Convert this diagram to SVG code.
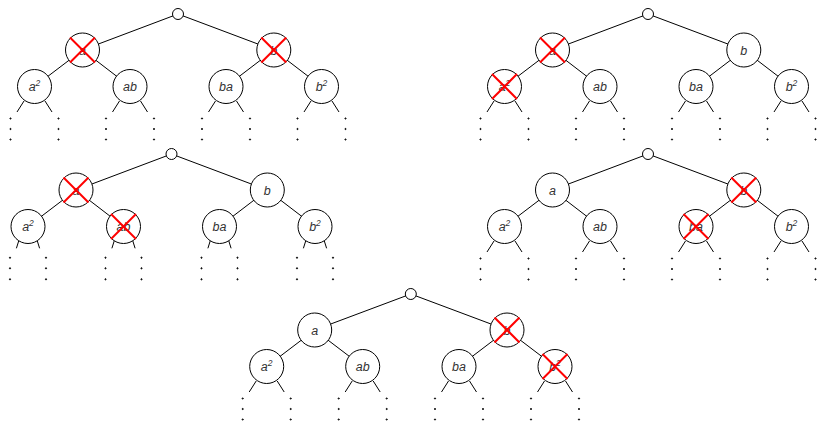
<svg xmlns="http://www.w3.org/2000/svg" xmlns:xlink="http://www.w3.org/1999/xlink" width="818" height="422" viewBox="0 0 818 422">
<style>
.e{stroke:#000;stroke-width:1;fill:none}
.n{fill:#fff;stroke:#000;stroke-width:1}
.t{font-family:"Liberation Sans",Arial,sans-serif;font-style:italic;font-size:12.5px;fill:#333;text-anchor:middle}
.s{font-size:8.5px}
.x{stroke:#f00;stroke-width:2;fill:none}
.d{fill:#444}
</style>
<defs>
<g id="cross" class="x"><line x1="-12.5" y1="-12.5" x2="12.5" y2="12.5"/><line x1="12.5" y1="-12.5" x2="-12.5" y2="12.5"/></g>
<g id="stubW"><g class="e"><line x1="-10.5" y1="14.5" x2="-17.5" y2="25.5"/><line x1="10.5" y1="14.5" x2="17.5" y2="25.5"/></g><g class="d"><circle cx="-24" cy="32" r="0.6"/><circle cx="-24" cy="42.5" r="0.6"/><circle cx="-24" cy="53" r="0.6"/><circle cx="24" cy="32" r="0.6"/><circle cx="24" cy="42.5" r="0.6"/><circle cx="24" cy="53" r="0.6"/></g></g>
<g id="stubN"><g class="e"><line x1="-9" y1="13.5" x2="-11.6" y2="21.8"/><line x1="9" y1="13.5" x2="11.6" y2="21.8"/></g><g class="d"><circle cx="-18" cy="31.2" r="0.6"/><circle cx="-18" cy="41.8" r="0.6"/><circle cx="-18" cy="52.8" r="0.6"/><circle cx="18" cy="31.2" r="0.6"/><circle cx="18" cy="41.8" r="0.6"/><circle cx="18" cy="52.8" r="0.6"/></g></g>
</defs>
<g id="connectors" class="e">
<!-- tree 1 -->
<line x1="178" y1="14" x2="82.5" y2="50"/><line x1="178" y1="14" x2="273.8" y2="50"/>
<line x1="82.5" y1="50" x2="34.5" y2="86.5"/><line x1="82.5" y1="50" x2="130" y2="86.5"/>
<line x1="273.8" y1="50" x2="226" y2="86.5"/><line x1="273.8" y1="50" x2="321.5" y2="86.5"/>
<use xlink:href="#stubW" x="34.5" y="86.5"/><use xlink:href="#stubW" x="130" y="86.5"/><use xlink:href="#stubW" x="226" y="86.5"/><use xlink:href="#stubW" x="321.5" y="86.5"/>
<!-- tree 2 -->
<line x1="648" y1="14" x2="552.5" y2="50"/><line x1="648" y1="14" x2="743.8" y2="50"/>
<line x1="552.5" y1="50" x2="504.5" y2="86.5"/><line x1="552.5" y1="50" x2="600" y2="86.5"/>
<line x1="743.8" y1="50" x2="696" y2="86.5"/><line x1="743.8" y1="50" x2="791.5" y2="86.5"/>
<use xlink:href="#stubW" x="504.5" y="86.5"/><use xlink:href="#stubW" x="600" y="86.5"/><use xlink:href="#stubW" x="696" y="86.5"/><use xlink:href="#stubW" x="791.5" y="86.5"/>
<!-- tree 3 -->
<line x1="171.5" y1="154" x2="76" y2="190"/><line x1="171.5" y1="154" x2="267.3" y2="190"/>
<line x1="76" y1="190" x2="28" y2="226.5"/><line x1="76" y1="190" x2="123.5" y2="226.5"/>
<line x1="267.3" y1="190" x2="219.5" y2="226.5"/><line x1="267.3" y1="190" x2="315" y2="226.5"/>
<use xlink:href="#stubN" x="28" y="226.5"/><use xlink:href="#stubN" x="123.5" y="226.5"/><use xlink:href="#stubN" x="219.5" y="226.5"/><use xlink:href="#stubN" x="315" y="226.5"/>
<!-- tree 4 -->
<line x1="648" y1="154" x2="552.5" y2="190"/><line x1="648" y1="154" x2="743.8" y2="190"/>
<line x1="552.5" y1="190" x2="504.5" y2="226.5"/><line x1="552.5" y1="190" x2="600" y2="226.5"/>
<line x1="743.8" y1="190" x2="696" y2="226.5"/><line x1="743.8" y1="190" x2="791.5" y2="226.5"/>
<use xlink:href="#stubW" x="504.5" y="226.5"/><use xlink:href="#stubW" x="600" y="226.5"/><use xlink:href="#stubW" x="696" y="226.5"/><use xlink:href="#stubW" x="791.5" y="226.5"/>
<!-- tree 5 -->
<line x1="410.8" y1="294" x2="314.7" y2="330"/><line x1="410.8" y1="294" x2="507" y2="330"/>
<line x1="314.7" y1="330" x2="266.7" y2="366.5"/><line x1="314.7" y1="330" x2="362.7" y2="366.5"/>
<line x1="507" y1="330" x2="459" y2="366.5"/><line x1="507" y1="330" x2="555" y2="366.5"/>
<use xlink:href="#stubW" x="266.7" y="366.5"/><use xlink:href="#stubW" x="362.7" y="366.5"/><use xlink:href="#stubW" x="459" y="366.5"/><use xlink:href="#stubW" x="555" y="366.5"/>
</g>
<!-- tree 1 nodes -->
<g id="t1-root"><circle class="n" cx="178" cy="14" r="5.5"/></g>
<g id="t1-a"><circle class="n" cx="82.5" cy="50" r="17"/><text class="t" x="82.5" y="54.5">a</text><use xlink:href="#cross" x="82.5" y="50"/></g>
<g id="t1-b"><circle class="n" cx="273.8" cy="50" r="17"/><text class="t" x="273.8" y="54.5">b</text><use xlink:href="#cross" x="273.8" y="50"/></g>
<g id="t1-aa"><circle class="n" cx="34.5" cy="86.5" r="17"/><text class="t" x="34.5" y="91">a<tspan class="s" dy="-4.8">2</tspan></text></g>
<g id="t1-ab"><circle class="n" cx="130" cy="86.5" r="17"/><text class="t" x="130" y="91">ab</text></g>
<g id="t1-ba"><circle class="n" cx="226" cy="86.5" r="17"/><text class="t" x="226" y="91">ba</text></g>
<g id="t1-bb"><circle class="n" cx="321.5" cy="86.5" r="17"/><text class="t" x="321.5" y="91">b<tspan class="s" dy="-4.8">2</tspan></text></g>
<!-- tree 2 nodes -->
<g id="t2-root"><circle class="n" cx="648" cy="14" r="5.5"/></g>
<g id="t2-a"><circle class="n" cx="552.5" cy="50" r="17"/><text class="t" x="552.5" y="54.5">a</text><use xlink:href="#cross" x="552.5" y="50"/></g>
<g id="t2-b"><circle class="n" cx="743.8" cy="50" r="17"/><text class="t" x="743.8" y="54.5">b</text></g>
<g id="t2-aa"><circle class="n" cx="504.5" cy="86.5" r="17"/><text class="t" x="504.5" y="91">a<tspan class="s" dy="-4.8">2</tspan></text><use xlink:href="#cross" x="504.5" y="86.5"/></g>
<g id="t2-ab"><circle class="n" cx="600" cy="86.5" r="17"/><text class="t" x="600" y="91">ab</text></g>
<g id="t2-ba"><circle class="n" cx="696" cy="86.5" r="17"/><text class="t" x="696" y="91">ba</text></g>
<g id="t2-bb"><circle class="n" cx="791.5" cy="86.5" r="17"/><text class="t" x="791.5" y="91">b<tspan class="s" dy="-4.8">2</tspan></text></g>
<!-- tree 3 nodes -->
<g id="t3-root"><circle class="n" cx="171.5" cy="154" r="5.5"/></g>
<g id="t3-a"><circle class="n" cx="76" cy="190" r="17"/><text class="t" x="76" y="194.5">a</text><use xlink:href="#cross" x="76" y="190"/></g>
<g id="t3-b"><circle class="n" cx="267.3" cy="190" r="17"/><text class="t" x="267.3" y="194.5">b</text></g>
<g id="t3-aa"><circle class="n" cx="28" cy="226.5" r="17"/><text class="t" x="28" y="231">a<tspan class="s" dy="-4.8">2</tspan></text></g>
<g id="t3-ab"><circle class="n" cx="123.5" cy="226.5" r="17"/><text class="t" x="123.5" y="231">ab</text><use xlink:href="#cross" x="123.5" y="226.5"/></g>
<g id="t3-ba"><circle class="n" cx="219.5" cy="226.5" r="17"/><text class="t" x="219.5" y="231">ba</text></g>
<g id="t3-bb"><circle class="n" cx="315" cy="226.5" r="17"/><text class="t" x="315" y="231">b<tspan class="s" dy="-4.8">2</tspan></text></g>
<!-- tree 4 nodes -->
<g id="t4-root"><circle class="n" cx="648" cy="154" r="5.5"/></g>
<g id="t4-a"><circle class="n" cx="552.5" cy="190" r="17"/><text class="t" x="552.5" y="194.5">a</text></g>
<g id="t4-b"><circle class="n" cx="743.8" cy="190" r="17"/><text class="t" x="743.8" y="194.5">b</text><use xlink:href="#cross" x="743.8" y="190"/></g>
<g id="t4-aa"><circle class="n" cx="504.5" cy="226.5" r="17"/><text class="t" x="504.5" y="231">a<tspan class="s" dy="-4.8">2</tspan></text></g>
<g id="t4-ab"><circle class="n" cx="600" cy="226.5" r="17"/><text class="t" x="600" y="231">ab</text></g>
<g id="t4-ba"><circle class="n" cx="696" cy="226.5" r="17"/><text class="t" x="696" y="231">ba</text><use xlink:href="#cross" x="696" y="226.5"/></g>
<g id="t4-bb"><circle class="n" cx="791.5" cy="226.5" r="17"/><text class="t" x="791.5" y="231">b<tspan class="s" dy="-4.8">2</tspan></text></g>
<!-- tree 5 nodes -->
<g id="t5-root"><circle class="n" cx="410.8" cy="294" r="5.5"/></g>
<g id="t5-a"><circle class="n" cx="314.7" cy="330" r="17"/><text class="t" x="314.7" y="334.5">a</text></g>
<g id="t5-b"><circle class="n" cx="507" cy="330" r="17"/><text class="t" x="507" y="334.5">b</text><use xlink:href="#cross" x="507" y="330"/></g>
<g id="t5-aa"><circle class="n" cx="266.7" cy="366.5" r="17"/><text class="t" x="266.7" y="371">a<tspan class="s" dy="-4.8">2</tspan></text></g>
<g id="t5-ab"><circle class="n" cx="362.7" cy="366.5" r="17"/><text class="t" x="362.7" y="371">ab</text></g>
<g id="t5-ba"><circle class="n" cx="459" cy="366.5" r="17"/><text class="t" x="459" y="371">ba</text></g>
<g id="t5-bb"><circle class="n" cx="555" cy="366.5" r="17"/><text class="t" x="555" y="371">b<tspan class="s" dy="-4.8">2</tspan></text><use xlink:href="#cross" x="555" y="366.5"/></g>
</svg>
